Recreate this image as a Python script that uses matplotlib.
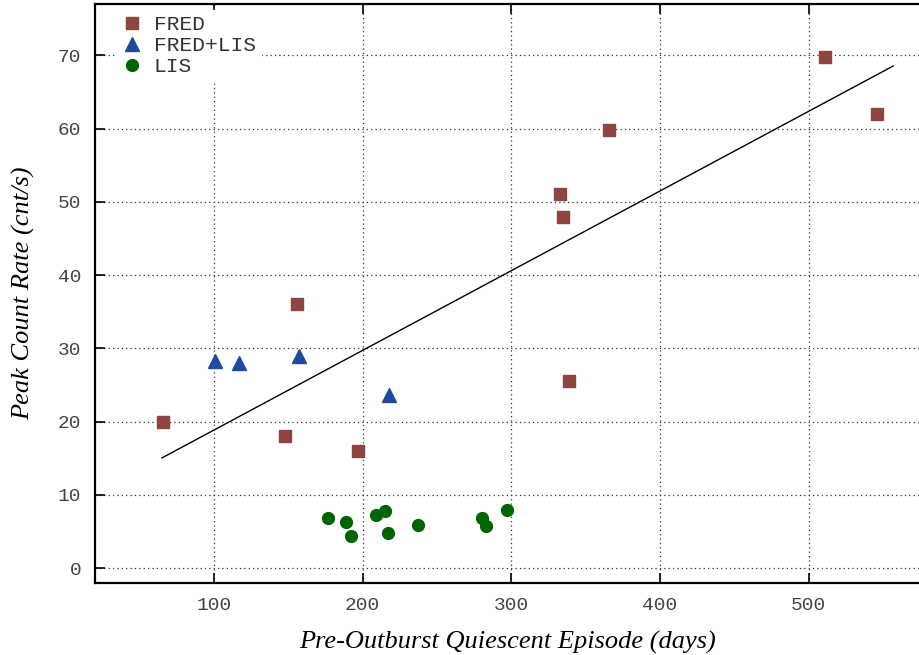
import matplotlib
matplotlib.use("Agg")
import matplotlib.pyplot as plt
import numpy as np

# FRED outbursts
fred_x = [66, 148, 156, 197, 333, 335, 339, 366, 511, 546]
fred_y = [20.0, 18.0, 36.0, 16.0, 51.0, 47.9, 25.5, 59.8, 69.8, 62.0]

# FRED+LIS outbursts
fredlis_x = [101, 117, 157, 218]
fredlis_y = [28.3, 28.0, 29.0, 23.6]

# LIS outbursts
lis_x = [177, 189, 192, 209, 215, 217, 237, 280, 283, 297]
lis_y = [6.9, 6.3, 4.4, 7.3, 7.8, 4.8, 5.9, 6.8, 5.8, 7.9]

# linear fit shown in the chart
fit_slope = 0.1087
fit_intercept = 7.99
fit_range = [65, 557]

x_ticks = [100, 200, 300, 400, 500]
y_ticks = [0, 10, 20, 30, 40, 50, 60, 70]

mono = "Liberation Mono"
serif = "Liberation Serif"

fig = plt.figure(figsize=(9.2, 6.55), dpi=100)
ax = fig.add_axes([0.1033, 0.110, 0.8967, 0.884])

ax.set_xlim(20, 575)
ax.set_ylim(-2, 77)

ax.grid(True, color="#333333", linestyle=(0, (1, 2.5)), linewidth=0.9)
ax.set_axisbelow(True)

fx = np.array(fit_range, dtype=float)
ax.plot(fx, fit_slope * fx + fit_intercept, color="black", linewidth=1.0, zorder=2)

ax.plot(fred_x, fred_y, linestyle="none", marker="s", markersize=8,
        color="#8e4540", label="FRED", zorder=3)
ax.plot(fredlis_x, fredlis_y, linestyle="none", marker="^", markersize=9.5,
        color="#1f4b9c", label="FRED+LIS", zorder=3)
ax.plot(lis_x, lis_y, linestyle="none", marker="o", markersize=8.5,
        color="#006400", label="LIS", zorder=3)

ax.set_xticks(x_ticks)
ax.set_yticks(y_ticks)
ax.tick_params(direction="in", length=7, width=1.2, top=True, right=False,
               labelsize=14, labelcolor="#444444", pad=10)
for lab in ax.get_xticklabels() + ax.get_yticklabels():
    lab.set_family(mono)

for side in ["left", "bottom", "top"]:
    ax.spines[side].set_linewidth(1.6)
ax.spines["right"].set_visible(False)

ax.set_xlabel("Pre-Outburst Quiescent Episode (days)", fontsize=19,
              family=serif, style="italic", labelpad=12)
ax.set_ylabel("Peak Count Rate (cnt/s)", fontsize=19,
              family=serif, style="italic", labelpad=16)

leg = ax.legend(loc="upper left", bbox_to_anchor=(0.025, 0.99), frameon=True,
                fancybox=False, prop={"family": mono, "size": 15.3},
                handletextpad=0.55, labelspacing=0.1, borderaxespad=0.0,
                handlelength=1.0, borderpad=0.25)
leg.get_frame().set_edgecolor("white")
leg.get_frame().set_facecolor("white")
leg.get_frame().set_alpha(1.0)
for t in leg.get_texts():
    t.set_color("#333333")

fig.savefig("out.png", dpi=100)
